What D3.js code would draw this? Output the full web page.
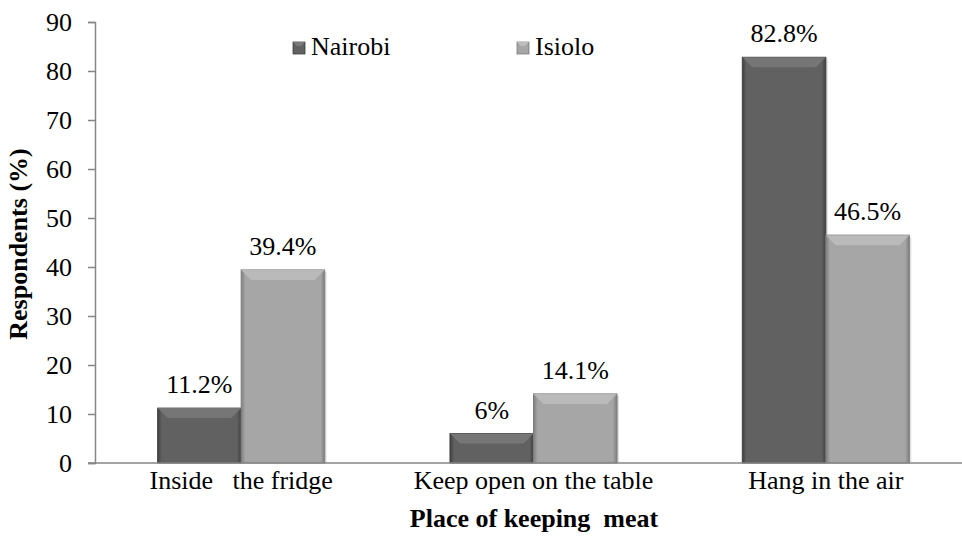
<!DOCTYPE html>
<html>
<head>
<meta charset="utf-8">
<script src="https://cdn.jsdelivr.net/npm/d3@7"></script>
<style>
body { margin: 0; background: #fff; }
svg text { font-family: "Liberation Serif", "Times New Roman", Times, serif; fill: #000; }
</style>
</head>
<body>
<div id="chart"></div>
<script>
var categories = ['Inside   the fridge', 'Keep open on the table', 'Hang in the air'];
var seriesNames = ['Nairobi', 'Isiolo'];
var nairobi = [11.2, 6, 82.8];
var isiolo = [39.4, 14.1, 46.5];
var valueLabels = [['11.2%', '6%', '82.8%'], ['39.4%', '14.1%', '46.5%']];
var yTicks = [0, 10, 20, 30, 40, 50, 60, 70, 80, 90];

var width = 962, height = 549;
var margin = {top: 22, right: -10, bottom: 86, left: 95};
var serif = '"Liberation Serif", "Times New Roman", Times, serif';
var fontSize = '26px';

var svg = d3.select('#chart').append('svg')
	.attr('width', width)
	.attr('height', height);

var defs = svg.append('defs');
var fills = [
	{id: 'gN', edge: '#404040', mid: '#616161', top: '#7a7a7a'},
	{id: 'gI', edge: '#7e7e7e', mid: '#a6a6a6', top: '#bdbdbd'}
];
fills.forEach(function(f) {
	var g = defs.append('linearGradient').attr('id', f.id)
		.attr('x1', 0).attr('x2', 1).attr('y1', 0).attr('y2', 0);
	g.append('stop').attr('offset', '0%').attr('stop-color', f.edge);
	g.append('stop').attr('offset', '5%').attr('stop-color', f.mid);
	g.append('stop').attr('offset', '95%').attr('stop-color', f.mid);
	g.append('stop').attr('offset', '100%').attr('stop-color', f.edge);
});

var x0 = d3.scaleBand()
	.domain(d3.range(categories.length))
	.range([margin.left, width - margin.right])
	.paddingInner(0)
	.paddingOuter(0);

var x1 = d3.scaleBand()
	.domain([0, 1])
	.range([0, x0.bandwidth()])
	.paddingInner(0)
	.paddingOuter(0.75);

var y = d3.scaleLinear()
	.domain([0, 90])
	.range([height - margin.bottom, margin.top]);

// y axis
var yAxis = svg.append('g')
	.attr('transform', 'translate(' + margin.left + ',0)')
	.call(d3.axisLeft(y).tickValues(yTicks).tickSize(7).tickPadding(16));
yAxis.attr('font-family', serif);
yAxis.select('.domain').attr('stroke', '#868686').attr('stroke-width', 1.5);
yAxis.selectAll('.tick line').attr('stroke', '#868686').attr('stroke-width', 1.5);
yAxis.selectAll('.tick text')
	.style('font-family', serif)
	.style('font-size', fontSize)
	.attr('fill', '#000');

var data = [nairobi, isiolo];

data.forEach(function(series, s) {
	var g = svg.append('g');
	series.forEach(function(v, i) {
		var bx = x0(i) + x1(s), bw = x1.bandwidth();
		var by = y(v), bh = y(0) - y(v);
		// soft shadow on the right
		g.append('rect')
			.attr('x', bx + 2).attr('y', by + 2)
			.attr('width', bw).attr('height', bh - 2)
			.attr('fill', '#000').attr('opacity', 0.12);
		g.append('rect')
			.attr('x', bx).attr('y', by)
			.attr('width', bw).attr('height', bh)
			.attr('fill', 'url(#' + fills[s].id + ')')
			.attr('stroke', fills[s].edge).attr('stroke-width', 1);
		// top bevel
		var bev = Math.min(10, bh / 2);
		g.append('path')
			.attr('d', 'M' + bx + ',' + by + 'L' + (bx + bw) + ',' + by +
				'L' + (bx + bw - bev) + ',' + (by + bev) + 'L' + (bx + bev) + ',' + (by + bev) + 'Z')
			.attr('fill', fills[s].top).attr('opacity', 0.85);
		g.append('text')
			.attr('x', bx + bw / 2)
			.attr('y', by - 15)
			.attr('text-anchor', 'middle')
			.style('font-family', serif)
			.style('font-size', fontSize)
			.text(valueLabels[s][i]);
	});
});

// x axis
svg.append('line')
	.attr('x1', margin.left - 7).attr('x2', width)
	.attr('y1', y(0)).attr('y2', y(0))
	.attr('stroke', '#868686').attr('stroke-width', 1.5);

svg.selectAll('.cat').data(categories).enter().append('text')
	.attr('class', 'cat')
	.attr('x', function(d, i) { return x0(i) + x0.bandwidth() / 2; })
	.attr('y', 489)
	.attr('text-anchor', 'middle')
	.style('font-family', serif)
	.style('font-size', fontSize)
	.style('white-space', 'pre')
	.text(function(d) { return d; });

svg.append('text')
	.attr('x', 534).attr('y', 527)
	.attr('text-anchor', 'middle')
	.style('font-family', serif)
	.style('font-size', fontSize).style('font-weight', 'bold')
	.style('white-space', 'pre')
	.text('Place of keeping  meat');

svg.append('text')
	.attr('transform', 'translate(27,244) rotate(-90)')
	.attr('text-anchor', 'middle')
	.style('font-family', serif)
	.style('font-size', fontSize).style('font-weight', 'bold')
	.text('Respondents (%)');

// legend
var legendX = [293, 517];
seriesNames.forEach(function(n, s) {
	var lg = svg.append('g').attr('transform', 'translate(' + legendX[s] + ',42)');
	lg.append('rect').attr('width', 12).attr('height', 12)
		.attr('fill', 'url(#' + fills[s].id + ')')
		.attr('stroke', fills[s].edge).attr('stroke-width', 0.8);
	lg.append('path').attr('d', 'M0,0L12,0L8,4L4,4Z').attr('fill', fills[s].top);
	lg.append('text').attr('x', 18).attr('y', 13)
		.style('font-family', serif)
		.style('font-size', fontSize).text(n);
});
</script>
</body>
</html>
